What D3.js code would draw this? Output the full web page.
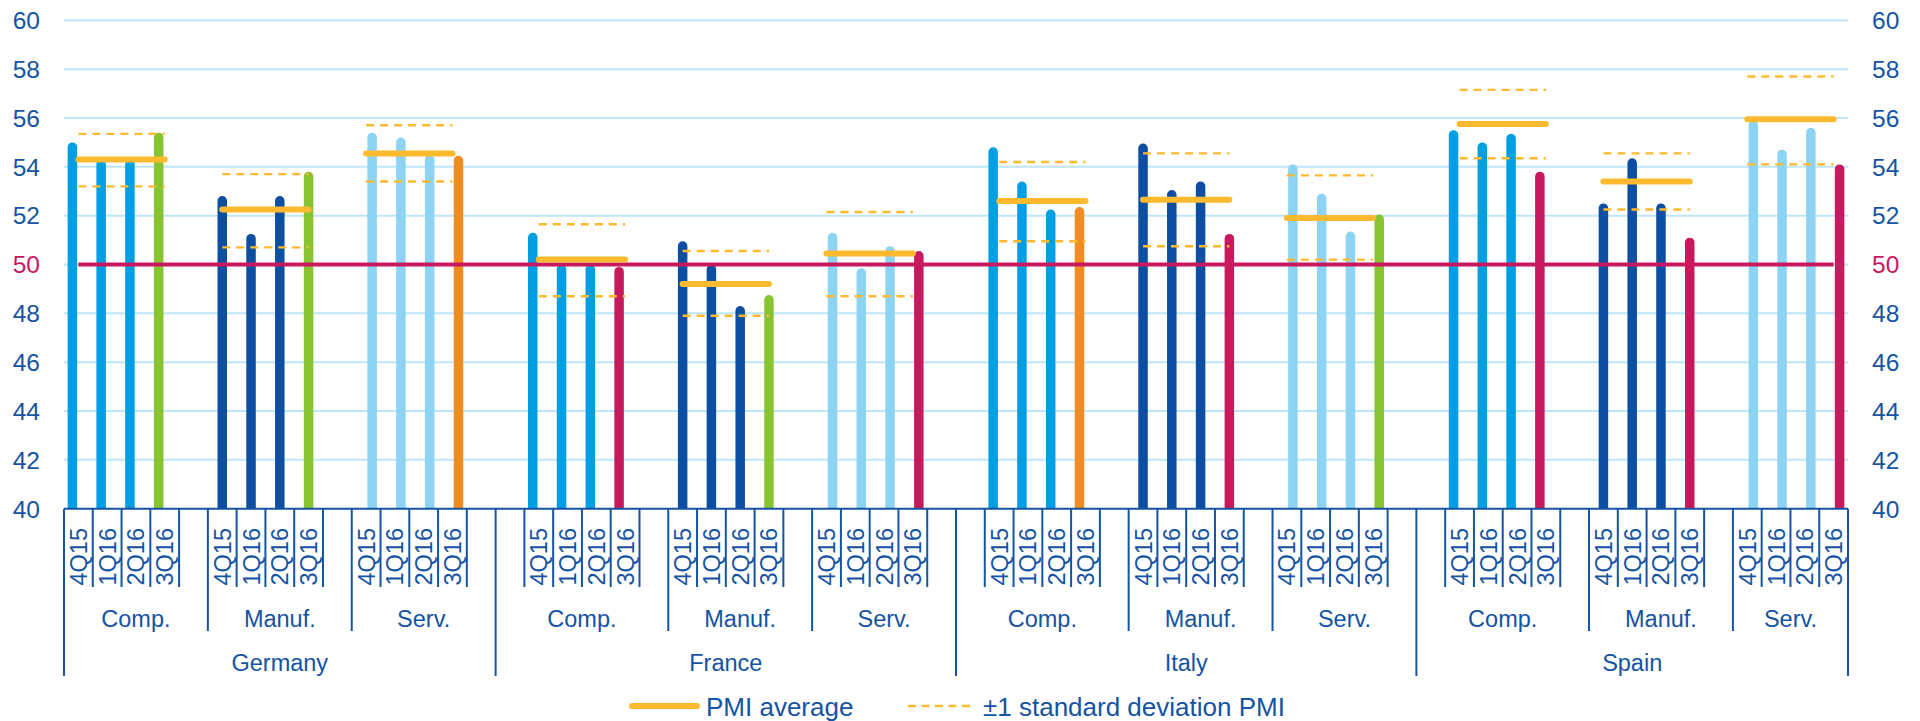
<!DOCTYPE html>
<html>
<head>
<meta charset="utf-8">
<script src="https://cdn.jsdelivr.net/npm/d3@7"></script>
<style>
  html, body { margin: 0; padding: 0; background: #ffffff; }
  svg { display: block; font-family: "Liberation Sans", Arial, sans-serif; }
</style>
</head>
<body>
<svg id="chart" width="1920" height="721"></svg>
<script>
// ---- Data -------------------------------------------------------------
const countries = ["Germany", "France", "Italy", "Spain"];
const sectors = ["Comp.", "Manuf.", "Serv."];
const quarters = ["4Q15", "1Q16", "2Q16", "3Q16"];
const yTicks = [40, 42, 44, 46, 48, 50, 52, 54, 56, 58, 60];

// Quarterly PMI readings, per country: [Comp., Manuf., Serv.] x quarters
const pmiGermany = [[55.0, 54.3, 54.3, 55.4], [52.8, 51.25, 52.8, 53.8], [55.4, 55.2, 54.5, 54.45]];
const pmiFrance  = [[51.3, 50.0, 50.0, 49.9], [50.95, 50.0, 48.3, 48.75], [51.3, 49.85, 50.75, 50.55]];
const pmiItaly   = [[54.8, 53.4, 52.25, 52.35], [54.95, 53.05, 53.4, 51.25], [54.1, 52.9, 51.35, 52.05]];
const pmiSpain   = [[55.5, 55.0, 55.35, 53.8], [52.5, 54.35, 52.5, 51.1], [55.9, 54.7, 55.6, 54.1]];

// Long-run PMI average and +/-1 standard deviation band, per country x sector
const pmiAverage = [[54.3, 52.25, 54.55], [50.2, 49.2, 50.45], [52.6, 52.65, 51.9], [55.75, 53.4, 55.95]];
const pmiSdHigh  = [[55.35, 53.7, 55.7], [51.65, 50.55, 52.15], [54.2, 54.55, 53.65], [57.15, 54.55, 57.7]];
const pmiSdLow   = [[53.2, 50.7, 53.4], [48.7, 47.9, 48.7], [50.95, 50.75, 50.2], [54.35, 52.25, 54.1]];

// Direction of the latest quarter versus the previous one
const latestChange = [["up", "up", "flat"], ["down", "up", "down"], ["flat", "down", "up"], ["down", "down", "down"]];

const expansionThreshold = 50;
const legendLabels = ["PMI average", "\u00B11 standard deviation PMI"];

const pmiByCountry = [pmiGermany, pmiFrance, pmiItaly, pmiSpain];

// ---- Styles -----------------------------------------------------------
const axisBlue = "#1553A3";
const gridBlue = "#BFE6F8";
const crimson = "#C8195E";
const gold = "#FDBA2F";
const sectorColor = ["#009FE3", "#0B4EA2", "#8DD3F3"];
const changeColor = { up: "#88C431", flat: "#F28C1E", down: "#C8195E" };
const sectorShift = [-6, 0, 6];
const barWidth = 9.5;

// ---- Layout -----------------------------------------------------------
const plotLeft = 64, plotRight = 1848;
const plotTop = 20.3, plotBottom = 508.7;
const quarterDepth = 587, groupDepth = 631, countryDepth = 676;

// Category slots: four quarters per sector with blank spacers between groups
const slots = [];
countries.forEach((c, ci) => sectors.forEach((s, si) => {
  if (ci > 0 && si === 0) slots.push({ ci, si, q: -1 });
  quarters.forEach((q, qi) => slots.push({ ci, si, q: qi }));
  if (!(ci === countries.length - 1 && si === sectors.length - 1)) slots.push({ ci, si, q: -1 });
}));

const x = d3.scaleBand().domain(d3.range(slots.length)).range([plotLeft, plotRight]).padding(0);
const y = d3.scaleLinear().domain([40, 60]).range([plotBottom, plotTop]);
const step = x.step();
const slotCenter = i => x(i) + x.bandwidth() / 2;

const svg = d3.select("#chart");

// Gridlines
svg.append("g").selectAll("line")
  .data(yTicks.filter(t => t > 40))
  .join("line")
  .attr("x1", plotLeft).attr("x2", plotRight)
  .attr("y1", d => y(d)).attr("y2", d => y(d))
  .attr("stroke", gridBlue).attr("stroke-width", 2);

// Y axis labels (left and right)
const yLabelColor = d => d === expansionThreshold ? crimson : axisBlue;
svg.append("g").selectAll("text")
  .data(yTicks).join("text")
  .attr("x", 40).attr("y", d => y(d)).attr("dy", "0.36em")
  .attr("text-anchor", "end")
  .attr("font-size", 24.5)
  .attr("fill", yLabelColor)
  .text(d => d);
svg.append("g").selectAll("text")
  .data(yTicks).join("text")
  .attr("x", 1872).attr("y", d => y(d)).attr("dy", "0.36em")
  .attr("text-anchor", "start")
  .attr("font-size", 24.5)
  .attr("fill", yLabelColor)
  .text(d => d);

// Bars (rounded top)
const barData = [];
slots.forEach((s, i) => {
  if (s.q < 0) return;
  const v = pmiByCountry[s.ci][s.si][s.q];
  const color = s.q === quarters.length - 1 ? changeColor[latestChange[s.ci][s.si]] : sectorColor[s.si];
  barData.push({ cx: slotCenter(i) + sectorShift[s.si], v, color });
});
const r = barWidth / 2;
svg.append("g").selectAll("path")
  .data(barData).join("path")
  .attr("d", d => {
    const x0 = d.cx - r, x1 = d.cx + r, yt = y(d.v), yb = y(40);
    return `M${x0},${yb}L${x0},${yt + r}A${r},${r} 0 0 1 ${x1},${yt + r}L${x1},${yb}Z`;
  })
  .attr("fill", d => d.color);

// 50 threshold line across category centers
const firstIdx = 0, lastIdx = slots.length - 1;
svg.append("line")
  .attr("x1", slotCenter(firstIdx)).attr("x2", slotCenter(lastIdx))
  .attr("y1", y(expansionThreshold)).attr("y2", y(expansionThreshold))
  .attr("stroke", crimson).attr("stroke-width", 4);

// Group spans (sector within country)
const groups = [];
countries.forEach((c, ci) => sectors.forEach((s, si) => {
  const idx = slots.map((d, i) => i).filter(i => slots[i].ci === ci && slots[i].si === si);
  const qIdx = idx.filter(i => slots[i].q >= 0);
  groups.push({
    ci, si,
    start: d3.min(idx), end: d3.max(idx) + 1,
    q0: qIdx[0], q1: qIdx[qIdx.length - 1],
    avg: pmiAverage[ci][si], hi: pmiSdHigh[ci][si], lo: pmiSdLow[ci][si]
  });
}));

// Standard deviation band (dashed)
const sdG = svg.append("g");
groups.forEach(g => {
  [g.hi, g.lo].forEach(v => {
    sdG.append("line")
      .attr("x1", slotCenter(g.q0)).attr("x2", slotCenter(g.q1))
      .attr("y1", y(v)).attr("y2", y(v))
      .attr("stroke", gold).attr("stroke-width", 2.4)
      .attr("stroke-dasharray", "8,6");
  });
});

// PMI averages
svg.append("g").selectAll("line")
  .data(groups).join("line")
  .attr("x1", g => slotCenter(g.q0)).attr("x2", g => slotCenter(g.q1))
  .attr("y1", g => y(g.avg)).attr("y2", g => y(g.avg))
  .attr("stroke", gold).attr("stroke-width", 6)
  .attr("stroke-linecap", "round");

// X axis line
svg.append("line")
  .attr("x1", plotLeft).attr("x2", plotRight)
  .attr("y1", plotBottom).attr("y2", plotBottom)
  .attr("stroke", axisBlue).attr("stroke-width", 2);

// Category separators at every slot boundary
const boundaries = d3.range(slots.length + 1).map(i => {
  let depth = quarterDepth;
  if (i === 0 || i === slots.length || slots[i].ci !== slots[i - 1].ci) depth = countryDepth;
  else if (slots[i].si !== slots[i - 1].si) depth = groupDepth;
  return { xPos: plotLeft + i * step, depth };
});
svg.append("g").selectAll("line")
  .data(boundaries).join("line")
  .attr("x1", d => d.xPos).attr("x2", d => d.xPos)
  .attr("y1", plotBottom).attr("y2", d => d.depth)
  .attr("stroke", axisBlue).attr("stroke-width", 2);

// Quarter labels (rotated)
svg.append("g").selectAll("text")
  .data(slots.map((s, i) => ({ s, i })).filter(d => d.s.q >= 0))
  .join("text")
  .attr("transform", d => `translate(${slotCenter(d.i)},${528}) rotate(-90)`)
  .attr("dy", "0.36em")
  .attr("text-anchor", "end")
  .attr("font-size", 23.5)
  .attr("fill", axisBlue)
  .text(d => quarters[d.s.q]);

// Sector labels
svg.append("g").selectAll("text")
  .data(groups).join("text")
  .attr("x", g => plotLeft + (g.start + g.end) / 2 * step)
  .attr("y", 627)
  .attr("text-anchor", "middle")
  .attr("font-size", 23.5)
  .attr("fill", axisBlue)
  .text(g => sectors[g.si]);

// Country labels
svg.append("g").selectAll("text")
  .data(countries).join("text")
  .attr("x", (c, ci) => {
    const idx = slots.map((d, i) => i).filter(i => slots[i].ci === ci);
    return plotLeft + (d3.min(idx) + d3.max(idx) + 1) / 2 * step;
  })
  .attr("y", 671)
  .attr("text-anchor", "middle")
  .attr("font-size", 23.5)
  .attr("fill", axisBlue)
  .text(d => d);

// Legend
const legend = svg.append("g");
legend.append("line")
  .attr("x1", 632).attr("x2", 697).attr("y1", 706).attr("y2", 706)
  .attr("stroke", gold).attr("stroke-width", 6).attr("stroke-linecap", "round");
legend.append("text")
  .attr("x", 706).attr("y", 716)
  .attr("font-size", 26).attr("fill", axisBlue)
  .text(legendLabels[0]);
legend.append("line")
  .attr("x1", 908).attr("x2", 971).attr("y1", 706).attr("y2", 706)
  .attr("stroke", gold).attr("stroke-width", 2.4).attr("stroke-dasharray", "8,5.5");
legend.append("text")
  .attr("x", 983).attr("y", 716)
  .attr("font-size", 26).attr("fill", axisBlue)
  .text(legendLabels[1]);
</script>
</body>
</html>
